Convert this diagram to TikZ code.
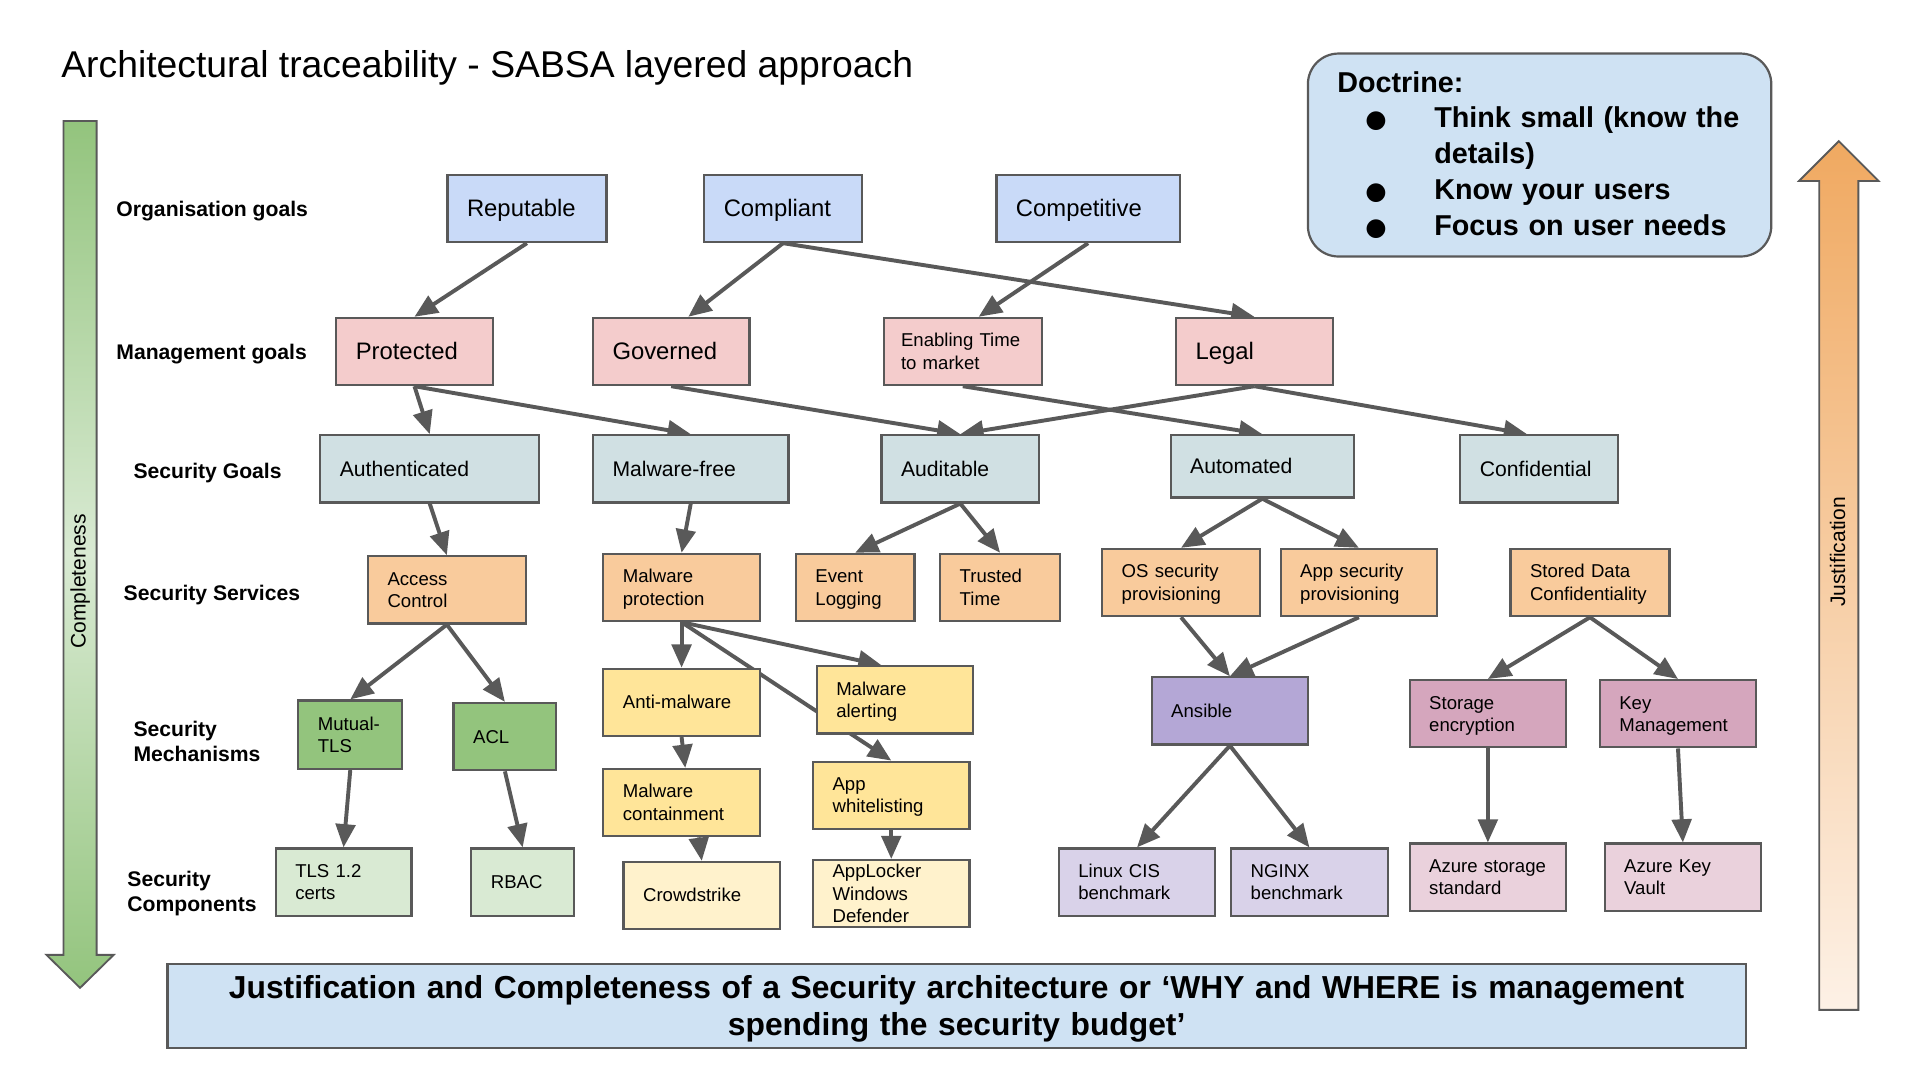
\documentclass[tikz,border=0pt]{standalone}
\usepackage{fontspec}
\setmainfont{Liberation Sans}
\newfontfamily\dotfont{DejaVu Sans}
\usepackage{xcolor}
\usetikzlibrary{arrows.meta}
\usetikzlibrary{calc}
\usetikzlibrary{backgrounds}

\definecolor{lineGray}{HTML}{595959}
\definecolor{orgBlue}{HTML}{C9DAF8}
\definecolor{mgmtRed}{HTML}{F4CCCC}
\definecolor{goalCyan}{HTML}{D0E0E3}
\definecolor{servOrange}{HTML}{F9CB9C}
\definecolor{mechGreen}{HTML}{93C47D}
\definecolor{mechYellow}{HTML}{FFE599}
\definecolor{mechPurple}{HTML}{B4A7D6}
\definecolor{mechPink}{HTML}{D5A6BD}
\definecolor{compGreen}{HTML}{D9EAD3}
\definecolor{compYellow}{HTML}{FFF2CC}
\definecolor{compPurple}{HTML}{D9D2E9}
\definecolor{compPink}{HTML}{EAD1DC}
\definecolor{noteBlue}{HTML}{CFE2F3}
\definecolor{arrowGreen}{HTML}{93C47D}
\definecolor{arrowLight}{HTML}{D9EAD3}
\definecolor{arrowOrange}{HTML}{F0A961}
\definecolor{arrowPale}{HTML}{FDF1E6}

\newcommand{\docdot}{\makebox[79.4pt][l]{\makebox[63.6pt]{\dotfont\fontsize{20}{20}\selectfont ●}}}

\begin{document}
\begin{tikzpicture}[x=1pt, y=-1pt, >={Triangle[length=19pt,width=16pt]}] % y runs downwards, one unit = one pixel
\tikzstyle{linebox} = [execute at begin node={\rule{0pt}{0.905em}}, execute at end node={\rule[-0.212em]{0pt}{0.212em}}]
\tikzstyle{box} = [rectangle, linebox, draw=lineGray, line width=1.8pt, minimum height=55pt, inner xsep=16pt, inner ysep=0pt, text width=96pt, align=left, font=\fontsize{15.2}{18.3}\selectfont]
\tikzstyle{orggoal} = [box, fill=orgBlue, font=\fontsize{19.5}{23}\selectfont]
\tikzstyle{mgmtgoal} = [box, fill=mgmtRed, font=\fontsize{19.5}{23}\selectfont]
\tikzstyle{secgoal} = [box, fill=goalCyan, font=\fontsize{17.3}{20.6}\selectfont]
\tikzstyle{service} = [box, fill=servOrange]
\tikzstyle{rowlabel} = [inner sep=0pt, align=left, font=\bfseries\fontsize{17.3}{20.6}\selectfont]
\tikzstyle{link} = [->, draw=lineGray, line width=3.2pt]

\useasboundingbox (0,0) rectangle (1568,880);

\node[anchor=base west, inner sep=0pt, font=\fontsize{30.5}{36}\selectfont] (title) at (50,63.4) {Architectural traceability - SABSA layered approach};

% side arrows
\path[draw=lineGray, line width=1.5pt, top color=arrowGreen, bottom color=arrowGreen, middle color=arrowLight]
  (52,99) -- (79,99) -- (79,781) -- (93,781) -- (65.5,808) -- (38,781) -- (52,781) -- cycle;
\node[rotate=90, inner sep=0pt, font=\fontsize{17.2}{20}\selectfont] (compl) at (65.5,475.5) {Completeness};
\path[draw=lineGray, line width=1.5pt, top color=arrowOrange, bottom color=arrowPale]
  (1488,826) -- (1520,826) -- (1520,148) -- (1536.5,148) -- (1504,115.5) -- (1471.5,148) -- (1488,148) -- cycle;
\node[rotate=90, inner sep=0pt, font=\fontsize{17.2}{20}\selectfont] (justif) at (1503,451.5) {Justification};

\node[draw=lineGray, line width=1.8pt, fill=noteBlue, rounded corners=25pt, minimum width=379pt, minimum height=166pt, text width=331pt, inner xsep=24pt, align=left, font=\bfseries\fontsize{23.5}{29.4}\selectfont] (doctrine) at (1259.3,126.8)
  {Doctrine:\\ \docdot Think small (know the\\ \hspace*{79.4pt}details)\\ \docdot Know your users\\ \docdot Focus on user needs};

% row labels
\node[rowlabel, anchor=base west] (lorg) at (95,176.9) {Organisation goals};
\node[rowlabel, anchor=base west] (lmgmt) at (95,294.4) {Management goals};
\node[rowlabel, anchor=base west] (lgoal) at (109,391) {Security Goals};
\node[rowlabel, anchor=base west] (lserv) at (101,491.5) {Security Services};
\node[rowlabel, anchor=west] (lmech) at (109,606.6) {Security\\Mechanisms};
\node[rowlabel, anchor=west] (lcomp) at (104,731) {Security\\Components};

% organisation and management goals
\node[orggoal, text width=98pt] (rep) at (431,170.5) {Reputable};
\node[orggoal, text width=97pt] (comp) at (640.5,170.5) {Compliant};
\node[orggoal, text width=118pt] (compet) at (890,170.5) {Competitive};
\node[mgmtgoal] (prot) at (339,287.5) {Protected};
\node[mgmtgoal] (gov) at (549,287.5) {Governed};
\node[box, fill=mgmtRed, text width=101pt, inner xsep=14pt] (ttm) at (787.5,287.5) {Enabling Time\\to market};
\node[mgmtgoal] (legal) at (1026,287.5) {Legal};

% security goals
\node[secgoal, text width=147pt] (auth) at (351.5,383.5) {Authenticated};
\node[secgoal, text width=128pt] (mfree) at (565,383.5) {Malware-free};
\node[secgoal, text width=97pt] (audit) at (785.5,383.5) {Auditable};
\node[secgoal, text width=118pt, minimum height=51pt] (autom) at (1032.5,381.5) {Automated};
\node[secgoal, text width=97pt] (conf) at (1259,383.5) {Confidential};

% security services
\node[service, text width=97pt] (ac) at (365.5,482.5) {Access\\Control};
\node[service] (mprot) at (557.5,480.5) {Malware\\protection};
\node[service, text width=65pt] (evlog) at (699.5,480.5) {Event\\Logging};
\node[service, text width=66pt] (ttime) at (818,480.5) {Trusted\\Time};
\node[service, text width=97pt] (ossec) at (966,476.5) {OS security\\provisioning};
\node[service] (appsec) at (1111.5,476.5) {App security\\provisioning};
\node[service, text width=98pt] (stored) at (1300.5,476.5) {Stored Data\\Confidentiality};

% security mechanisms
\node[box, fill=mechGreen, text width=53pt, minimum height=56pt] (mtls) at (286.5,601) {Mutual-\\TLS};
\node[box, fill=mechGreen, text width=52pt] (acl) at (413,602.5) {ACL};
\node[box, fill=mechYellow] (antim) at (557.5,574.5) {Anti-malware};
\node[box, fill=mechYellow] (malert) at (732,572.5) {Malware\\alerting};
\node[box, fill=mechYellow] (mcont) at (557.5,656.5) {Malware\\containment};
\node[box, fill=mechYellow] (appwl) at (729,650.5) {App\\whitelisting};
\node[box, fill=mechPurple] (ansible) at (1006,581.5) {Ansible};
\node[box, fill=mechPink] (stenc) at (1217,583.8) {Storage\\encryption};
\node[box, fill=mechPink] (keym) at (1372.5,583.8) {Key\\Management};

% security components
\node[box, fill=compGreen, text width=79pt] (tlscert) at (281,721.5) {TLS 1.2\\certs};
\node[box, fill=compGreen, text width=52pt] (rbac) at (427.5,721.5) {RBAC};
\node[box, fill=compYellow] (crowd) at (574,732.5) {Crowdstrike};
\node[box, fill=compYellow] (applock) at (729,731) {AppLocker\\Windows\\Defender};
\node[box, fill=compPurple] (linuxcis) at (930,721.5) {Linux CIS\\benchmark};
\node[box, fill=compPurple] (nginx) at (1071,721.5) {NGINX\\benchmark};
\node[box, fill=compPink] (azstor) at (1217,717.5) {Azure storage\\standard};
\node[box, fill=compPink] (azkv) at (1376.5,717.5) {Azure Key\\Vault};

\node[linebox, draw=lineGray, line width=1.8pt, fill=noteBlue, minimum height=69pt, text width=1259pt, inner xsep=16pt, inner ysep=2pt, align=center, font=\bfseries\fontsize{26}{30.5}\selectfont] (banner) at (782.5,823)
  {Justification and Completeness of a Security architecture or ‘WHY and WHERE is management\\spending the security budget’};

\begin{pgfonlayer}{background}
\foreach \from/\to in {rep/prot, comp/legal, prot/auth, prot/mfree, gov/audit, ttm/autom, legal/audit,
  auth/ac, mfree/mprot, audit/evlog, audit/ttime, autom/ossec, autom/appsec,
  ac/mtls, ac/acl, mprot/antim, mprot/appwl, appwl/applock, ossec/ansible, appsec/ansible,
  stored/stenc, stored/keym, mtls/tlscert, acl/rbac, ansible/linuxcis, ansible/nginx, stenc/azstor, keym/azkv}
  \draw[link] (\from.south) -- (\to.north);
% these do not meet the middle of the box
\draw[link] (comp.south) -- ($(gov.north)+(14,0)$);
\draw[link] (compet.south) -- ($(ttm.north)+(13,0)$);
\draw[link] (legal.south) -- ($(conf.north)+(-10,0)$);
\draw[link] (mprot.south) -- ($(malert.north)+(-11,0)$);
\draw[link] (antim.south) -- ($(mcont.north)+(3,0)$);
\draw[link] ($(mcont.south)+(14,0)$) -- (crowd.north);
\end{pgfonlayer}
\end{tikzpicture}
\end{document}
